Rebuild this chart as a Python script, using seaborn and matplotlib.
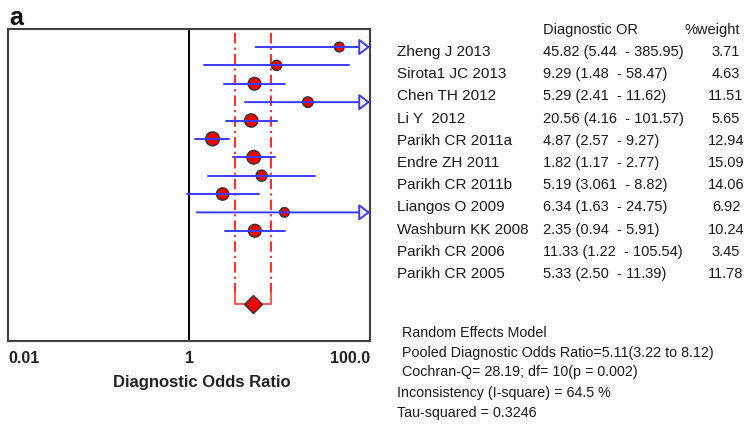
import numpy as np
import pandas as pd
import matplotlib
matplotlib.use("Agg")
import matplotlib.pyplot as plt
import seaborn as sns

# Study-level diagnostic odds ratios with 95% CI and random-effects weights
studies = ["Zheng J 2013", "Sirota1 JC 2013", "Chen TH 2012", "Li Y  2012",
           "Parikh CR 2011a", "Endre ZH 2011", "Parikh CR 2011b", "Liangos O 2009",
           "Washburn KK 2008", "Parikh CR 2006", "Parikh CR 2005"]
or_text = ["45.82", "9.29", "5.29", "20.56", "4.87", "1.82", "5.19", "6.34",
           "2.35", "11.33", "5.33"]
lo_text = ["5.44", "1.48", "2.41", "4.16", "2.57", "1.17", "3.061", "1.63",
           "0.94", "1.22", "2.50"]
hi_text = ["385.95", "58.47", "11.62", "101.57", "9.27", "2.77", "8.82", "24.75",
           "5.91", "105.54", "11.39"]
weights = [3.71, 4.63, 11.51, 5.65, 12.94, 15.09, 14.06, 6.92, 10.24, 3.45, 11.78]

pooled_or, pooled_lo, pooled_hi = 5.11, 3.22, 8.12

summary_lines = [
    "Random Effects Model",
    "Pooled Diagnostic Odds Ratio=5.11(3.22 to 8.12)",
    "Cochran-Q= 28.19; df= 10(p = 0.002)",
    "Inconsistency (I-square) = 64.5 %",
    "Tau-squared = 0.3246",
]

x_ticks = [0.01, 1, 100]
x_tick_labels = ["0.01", "1", "100.0"]

df = pd.DataFrame({
    "study": studies,
    "OR": [float(v) for v in or_text],
    "lo": [float(v) for v in lo_text],
    "hi": [float(v) for v in hi_text],
    "weight": weights,
})
df["row"] = np.arange(len(df))

sns.set_theme(style="white")
plt.rcParams["font.family"] = ["Liberation Sans", "DejaVu Sans"]

W, H = 753, 436
fig = plt.figure(figsize=(W / 100, H / 100), dpi=100)

# axes box in pixel units
ax_l, ax_r, ax_t, ax_b = 8, 370, 29, 341
ax = fig.add_axes([ax_l / W, 1 - ax_b / H, (ax_r - ax_l) / W, (ax_b - ax_t) / H])

xmin, xmax = 0.01, 100
ax.set_xscale("log")
ax.set_xlim(xmin, xmax)
ax.set_ylim(16.0, -0.98)

blue = "#3a3aff"
red = "#ff3030"

# study point estimates, marker area by weight
sns.scatterplot(data=df, x="OR", y="row", size="weight", sizes=(48, 100),
                size_norm=(min(weights), max(weights)), color="#ee0000",
                edgecolor="#333333", linewidth=1.0, legend=False, ax=ax, zorder=3)

# confidence intervals; open arrowheads where CI runs past the axis
for _, r in df.iterrows():
    if r["hi"] > xmax:
        ax.annotate("", xy=(xmax, r["row"]), xytext=(r["lo"], r["row"]),
                    arrowprops=dict(arrowstyle="-|>,head_length=0.55,head_width=0.42",
                                    fc="white", ec=blue, lw=1.4, shrinkA=0, shrinkB=0),
                    annotation_clip=False, zorder=4)
    else:
        ax.plot([r["lo"], r["hi"]], [r["row"], r["row"]], color=blue, lw=1.4, zorder=4)

# null line
ax.axvline(1, color="black", lw=1.4, zorder=2)

# pooled estimate: CI guides and diamond
pooled_row = 14
ax.plot([pooled_lo, pooled_lo], [-0.76, pooled_row - 0.6], color=red, lw=1.5,
        linestyle=(0, (5, 2, 1, 2)), zorder=2)
ax.plot([pooled_hi, pooled_hi], [-0.76, pooled_row - 0.6], color=red, lw=1.5,
        linestyle=(0, (5, 2, 1, 2)), zorder=2)
ax.plot([pooled_lo, pooled_lo, pooled_hi, pooled_hi],
        [pooled_row - 0.6, pooled_row, pooled_row, pooled_row - 0.6],
        color="#ff5a5a", lw=1.5, zorder=2)
ax.plot([pooled_or], [pooled_row], marker="D", ms=9.5, color="#ee0000",
        mec="#333333", mew=1.0, zorder=5)

for s in ax.spines.values():
    s.set_color("#404040")
    s.set_linewidth(1.5)
ax.set_yticks([])
ax.set_xticks(x_ticks)
ax.set_xticklabels(x_tick_labels, fontsize=11.5, fontweight="bold", color="#222222")
ax.xaxis.set_minor_locator(matplotlib.ticker.NullLocator())
ax.tick_params(axis="x", length=0, pad=7)
labels = ax.get_xticklabels()
labels[0].set_ha("left")
labels[-1].set_ha("right")
ax.set_xlabel("Diagnostic Odds Ratio", fontsize=12, fontweight="bold",
              color="#222222", va="center")
ax.xaxis.set_label_coords((202 - ax_l) / (ax_r - ax_l), (ax_b - 382) / (ax_b - ax_t))
ax.set_ylabel("")

# panel letter
fig.text(9 / W, 1 - 18 / H, "a", fontsize=18, fontweight="bold", va="center",
         ha="left", color="#111111")

def px(x, y):
    return x / W, 1 - y / H

txt = "#1a1a1a"
fig.text(*px(543, 30), "Diagnostic OR", fontsize=10.5, va="center", color=txt)
fig.text(*px(712, 30), "%weight", fontsize=10.5, va="center", ha="center", color=txt)

for i, (name, o, l, h, w) in enumerate(zip(studies, or_text, lo_text, hi_text, weights)):
    y = 52 + 22.2 * i
    fig.text(*px(397, y), name, fontsize=11, va="center", color=txt)
    fig.text(*px(543, y), f"{o} ({l}  - {h})", fontsize=10.5, va="center", color=txt)
    fig.text(*px(726, y), f"{w:.2f}", fontsize=10.5, va="center", ha="center", color=txt)

for j, (line, y) in enumerate(zip(summary_lines, [333, 353, 372, 393, 413])):
    x = 402 if j < 3 else 397
    fig.text(*px(x, y), line, fontsize=10.3, va="center", color=txt)

fig.savefig("out.png", dpi=100, facecolor="white")
